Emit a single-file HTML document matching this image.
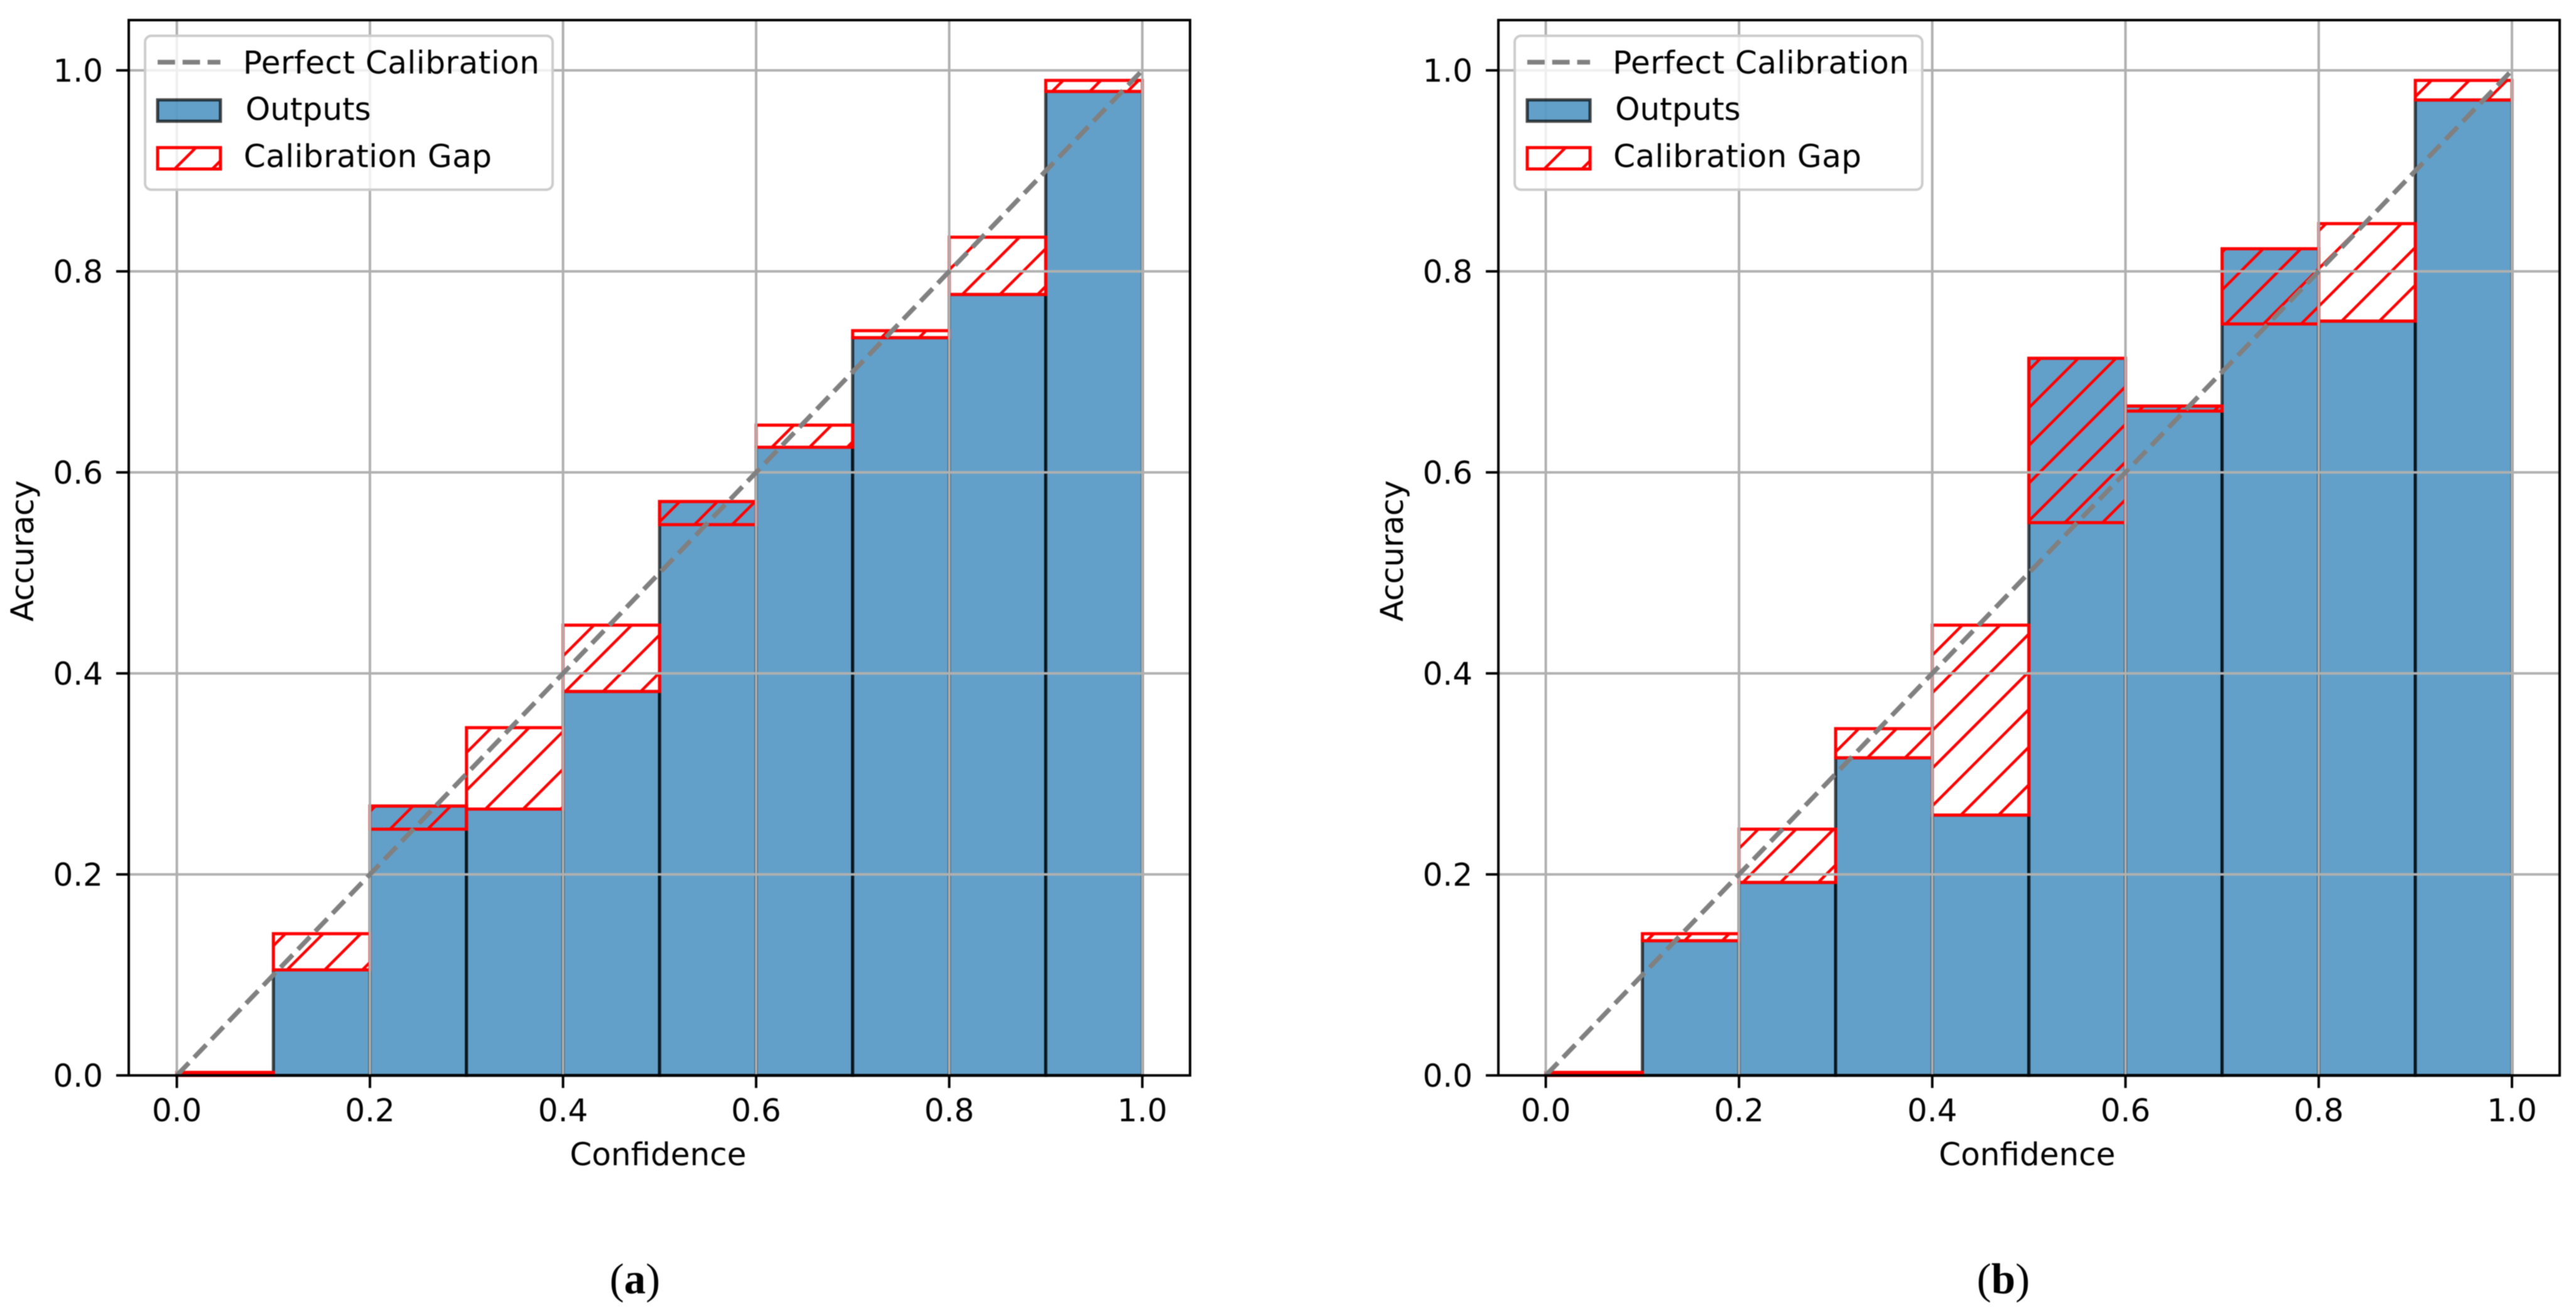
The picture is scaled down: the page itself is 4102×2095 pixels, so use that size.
<!DOCTYPE html>
<html lang="en">
<head>
<meta charset="utf-8">
<title>Reliability diagrams</title>
<style>
html,body{margin:0;padding:0;background:#fff;}
#figure{display:block;width:4102px;height:2095px;filter:blur(0.9px);}
.lbl{font-family:"DejaVu Sans","Liberation Sans",sans-serif;font-size:50px;fill:#000;}
.cap{font-family:"Liberation Serif",serif;font-size:69px;fill:#000;}
.cap tspan{font-weight:bold;}
</style>
</head>
<body>
<svg id="figure" xmlns="http://www.w3.org/2000/svg" width="4102" height="2095" viewBox="0 0 4102 2095">
<defs>
<clipPath id="legend-swatch-clip-a"><rect x="251" y="235" width="100" height="34"/></clipPath>
<clipPath id="legend-swatch-clip-b"><rect x="2432" y="235" width="100" height="34"/></clipPath>
</defs>
<rect width="4102" height="2095" fill="#fff"/>

<g id="panel-a">
  <g id="marks-a"></g>
  <text class="lbl" x="1048" y="1855" text-anchor="middle">Confidence</text>
  <text class="lbl" transform="translate(53,877) rotate(-90)" text-anchor="middle" textLength="225" lengthAdjust="spacing">Accuracy</text>
  <g>
    <rect x="231" y="57" width="649" height="245" rx="10" fill="#fff" fill-opacity="0.8" stroke="#ccc" stroke-width="4"/>
    <line x1="251" y1="99" x2="351" y2="99" stroke="#808080" stroke-width="7.5" stroke-dasharray="27.75 12"/>
    <text class="lbl" x="387" y="117" textLength="472" lengthAdjust="spacing">Perfect Calibration</text>
    <rect x="251" y="159" width="100" height="34" fill="#1f77b4" fill-opacity="0.7" stroke="#000" stroke-opacity="0.7" stroke-width="5"/>
    <text class="lbl" x="391" y="191">Outputs</text>
    <g clip-path="url(#legend-swatch-clip-a)" stroke="#f00" stroke-width="4.5">
      <line x1="269" y1="278" x2="319" y2="228"/>
      <line x1="329" y1="278" x2="379" y2="228"/>
    </g>
    <rect x="251" y="235" width="100" height="34" fill="none" stroke="#f00" stroke-width="5"/>
    <text class="lbl" x="388" y="266" textLength="395" lengthAdjust="spacing">Calibration Gap</text>
  </g>
  <text class="cap" x="1011" y="2059" text-anchor="middle">(<tspan>a</tspan>)</text>
</g>

<g id="panel-b">
  <g id="marks-b"></g>
  <text class="lbl" x="3228" y="1855" text-anchor="middle">Confidence</text>
  <text class="lbl" transform="translate(2234,877) rotate(-90)" text-anchor="middle" textLength="225" lengthAdjust="spacing">Accuracy</text>
  <g>
    <rect x="2412" y="57" width="649" height="245" rx="10" fill="#fff" fill-opacity="0.8" stroke="#ccc" stroke-width="4"/>
    <line x1="2432" y1="99" x2="2532" y2="99" stroke="#808080" stroke-width="7.5" stroke-dasharray="27.75 12"/>
    <text class="lbl" x="2568" y="117" textLength="472" lengthAdjust="spacing">Perfect Calibration</text>
    <rect x="2432" y="159" width="100" height="34" fill="#1f77b4" fill-opacity="0.7" stroke="#000" stroke-opacity="0.7" stroke-width="5"/>
    <text class="lbl" x="2572" y="191">Outputs</text>
    <g clip-path="url(#legend-swatch-clip-b)" stroke="#f00" stroke-width="4.5">
      <line x1="2450" y1="278" x2="2500" y2="228"/>
      <line x1="2510" y1="278" x2="2560" y2="228"/>
    </g>
    <rect x="2432" y="235" width="100" height="34" fill="none" stroke="#f00" stroke-width="5"/>
    <text class="lbl" x="2569" y="266" textLength="395" lengthAdjust="spacing">Calibration Gap</text>
  </g>
  <text class="cap" x="3190" y="2059" text-anchor="middle">(<tspan>b</tspan>)</text>
</g>
</svg>

<script>
const binStarts = [0, 0.1, 0.2, 0.3, 0.4, 0.5, 0.6, 0.7, 0.8, 0.9];
const binSize = 0.1;
const accuracyA = [0, 0.105, 0.268, 0.265, 0.382, 0.571, 0.625, 0.734, 0.777, 0.979];
const confidenceA = [0.003, 0.141, 0.245, 0.346, 0.448, 0.548, 0.647, 0.741, 0.834, 0.99];
const accuracyB = [0, 0.134, 0.192, 0.316, 0.259, 0.7135, 0.666, 0.8225, 0.7505, 0.9705];
const confidenceB = [0.003, 0.141, 0.245, 0.345, 0.448, 0.55, 0.661, 0.7477, 0.8475, 0.99];
const tickValues = [0, 0.2, 0.4, 0.6, 0.8, 1];
const tickLabels = ['0.0', '0.2', '0.4', '0.6', '0.8', '1.0'];
const diagonalEnds = [0, 1];

const NS = 'http://www.w3.org/2000/svg';
const HATCH_STEP = 60;
function make(parent, tag, attrs, text) {
  const el = document.createElementNS(NS, tag);
  for (const k in attrs) el.setAttribute(k, attrs[k]);
  if (text !== undefined) el.textContent = text;
  
  parent.appendChild(el);
  return el;
}

function drawPanel(rootId, accuracy, confidence, box) {
  const root = document.getElementById(rootId);
  const xScale = v => box.x0 + (box.x1 - box.x0) * v;
  const yScale = v => box.y0 + (box.y1 - box.y0) * v;

  binStarts.forEach((start, i) => {
    const bar = make(root, 'rect', {
      x: xScale(start), y: yScale(accuracy[i]),
      width: xScale(start + binSize) - xScale(start),
      height: yScale(0) - yScale(accuracy[i]),
      fill: '#1f77b4', 'fill-opacity': 0.7,
      stroke: '#000', 'stroke-opacity': 0.7, 'stroke-width': 5
    });
    
  });

  binStarts.forEach((start, i) => {
    const lo = Math.min(accuracy[i], confidence[i]);
    const hi = Math.max(accuracy[i], confidence[i]);
    const xa = xScale(start);
    const xb = xScale(start + binSize);
    const ya = yScale(hi);
    const yb = yScale(lo);
    const firstK = Math.ceil((xa + ya - box.hatchPhase) / HATCH_STEP);
    const lastK = Math.floor((xb + yb - box.hatchPhase) / HATCH_STEP);
    for (let k = firstK; k <= lastK; k++) {
      const c = box.hatchPhase + k * HATCH_STEP;
      const sx = Math.max(xa, c - yb);
      const ex = Math.min(xb, c - ya);
      if (ex <= sx) continue;
      const hatch = make(root, 'line', { x1: sx, y1: c - sx, x2: ex, y2: c - ex, stroke: '#f00', 'stroke-width': 4.5 });
      
    }
    const gap = make(root, 'rect', {
      x: xa, y: ya, width: xb - xa, height: yb - ya,
      fill: 'none', stroke: '#f00', 'stroke-width': 5
    });
    
  });

  tickValues.forEach(v => {
    const gx = make(root, 'line', { x1: xScale(v), x2: xScale(v), y1: box.top, y2: box.bottom, stroke: '#b0b0b0', 'stroke-width': 4 });
    
    const gy = make(root, 'line', { x1: box.left, x2: box.right, y1: yScale(v), y2: yScale(v), stroke: '#b0b0b0', 'stroke-width': 4 });
    
  });

  const diagonal = make(root, 'line', {
    x1: xScale(diagonalEnds[0]), y1: yScale(diagonalEnds[0]),
    x2: xScale(diagonalEnds[1]), y2: yScale(diagonalEnds[1]),
    stroke: '#808080', 'stroke-width': 7.5, 'stroke-dasharray': '27.75 12'
  });
  

  const frame = make(root, 'rect', {
    x: box.left, y: box.top, width: box.right - box.left, height: box.bottom - box.top,
    fill: 'none', stroke: '#000', 'stroke-width': 4
  });
  

  tickValues.forEach((v, i) => {
    const tx = make(root, 'line', { x1: xScale(v), x2: xScale(v), y1: box.bottom, y2: box.bottom + 20, stroke: '#000', 'stroke-width': 4 });
    
    const lx = make(root, 'text', { x: xScale(v), y: 1785, 'text-anchor': 'middle', class: 'lbl' }, tickLabels[i]);
    
    const ty = make(root, 'line', { x1: box.left - 20, x2: box.left, y1: yScale(v), y2: yScale(v), stroke: '#000', 'stroke-width': 4 });
    
    const ly = make(root, 'text', { x: box.left - 41, y: yScale(v) + 18, 'text-anchor': 'end', class: 'lbl' }, tickLabels[i]);
    
  });
}

drawPanel('marks-a', accuracyA, confidenceA, { left: 205, right: 1895, top: 32, bottom: 1712, x0: 281.6, x1: 1819, y0: 1712, y1: 112, hatchPhase: 21 });
drawPanel('marks-b', accuracyB, confidenceB, { left: 2386, right: 4076, top: 32, bottom: 1712, x0: 2461.5, x1: 4000, y0: 1712, y1: 112, hatchPhase: 40 });
</script>
</body>
</html>
